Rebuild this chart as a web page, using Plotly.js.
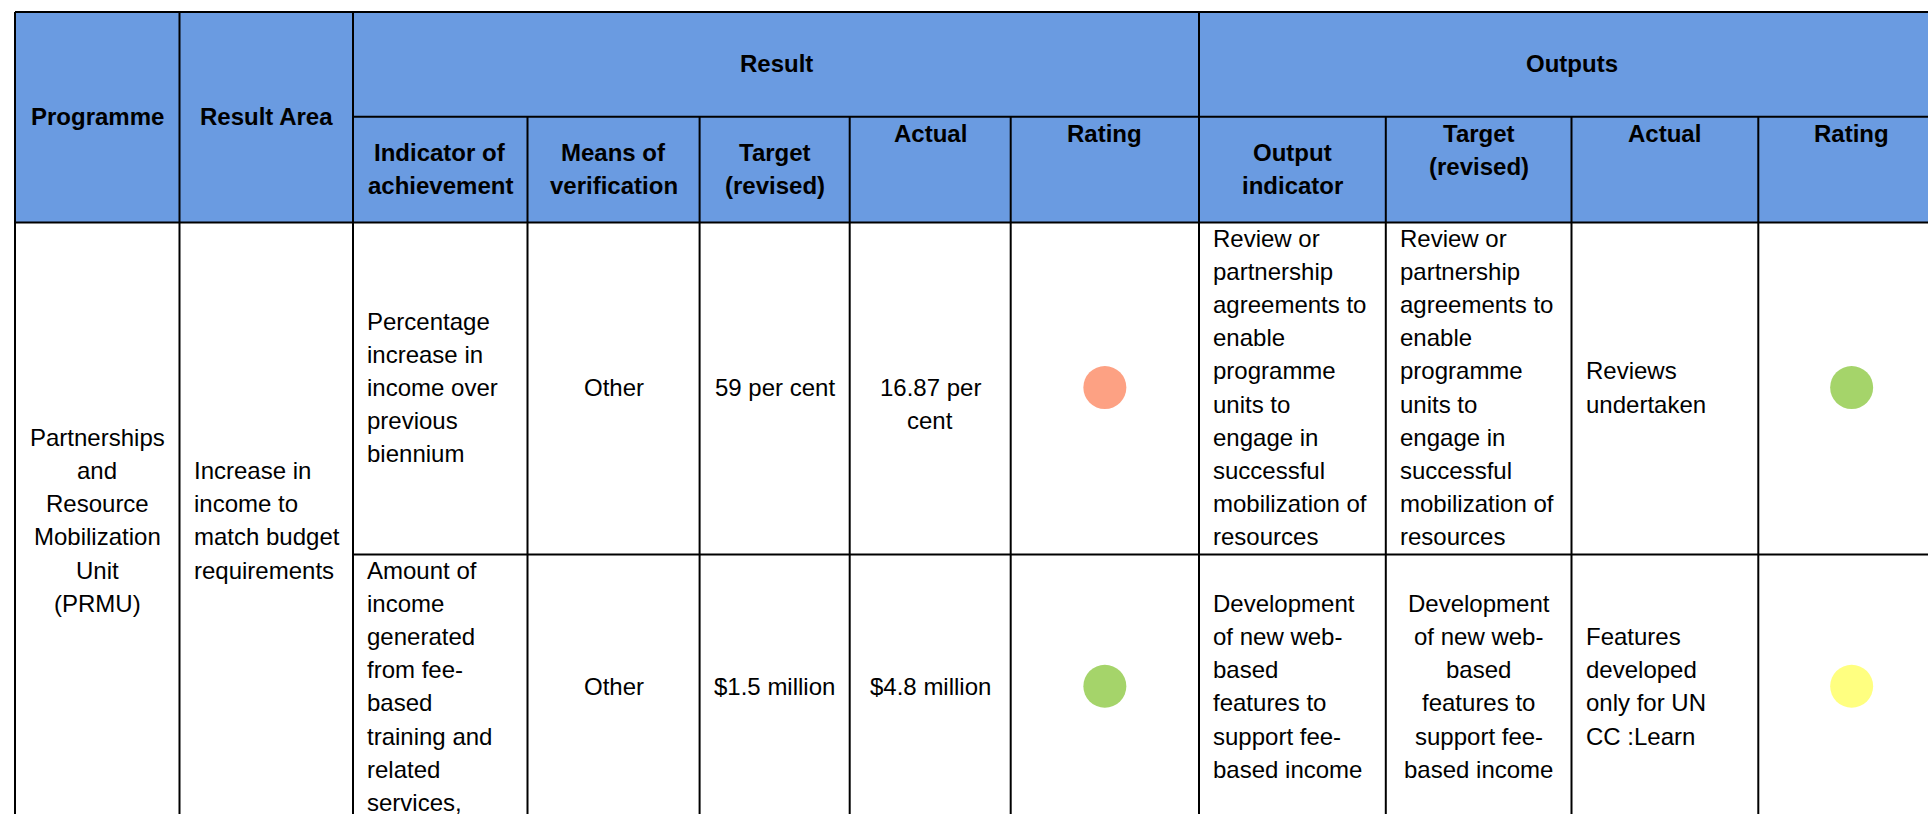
<!DOCTYPE html>
<html>
<head>
<meta charset="utf-8">
<script src="https://cdn.plot.ly/plotly-3.0.1.min.js"></script>
<style>html,body{margin:0;padding:0;background:#fff;}#chart{width:1928px;height:814px;}</style>
</head>
<body>
<div id="chart"></div>
<script>
// ---------------- DATA ----------------
const topHeaders = ["Programme", "Result Area"];
const groupHeaders = ["Result", "Outputs"];
const resultHeaders = [["Indicator of", "achievement"], ["Means of", "verification"], ["Target", "(revised)"], ["Actual"], ["Rating"]];
const outputHeaders = [["Output", "indicator"], ["Target", "(revised)"], ["Actual"], ["Rating"]];

const programme = ["Partnerships", "and", "Resource", "Mobilization", "Unit", "(PRMU)"];
const resultArea = ["Increase in", "income to", "match budget", "requirements"];

const indicators = [
  ["Percentage", "increase in", "income over", "previous", "biennium"],
  ["Amount of", "income", "generated", "from fee-", "based", "training and", "related", "services,"]
];
const means = [["Other"], ["Other"]];
const targets = [["59 per cent"], ["$1.5 million"]];
const actuals = [["16.87 per", "cent"], ["$4.8 million"]];
const resultRatings = ["not achieved", "achieved"];

const outputIndicators = [
  ["Review or", "partnership", "agreements to", "enable", "programme", "units to", "engage in", "successful", "mobilization of", "resources"],
  ["Development", "of new web-", "based", "features to", "support fee-", "based income"]
];
const outputTargets = [
  ["Review or", "partnership", "agreements to", "enable", "programme", "units to", "engage in", "successful", "mobilization of", "resources"],
  ["Development", "of new web-", "based", "features to", "support fee-", "based income"]
];
const outputActuals = [["Reviews", "undertaken"], ["Features", "developed", "only for UN", "CC :Learn"]];
const outputRatings = ["achieved", "partially achieved"];

const ratingColors = {"achieved": "#a5d46a", "partially achieved": "#ffff80", "not achieved": "#fda183"};

// ---------------- LAYOUT / STYLE ----------------
const colEdges = [15, 179.5, 353, 527.5, 699.6, 849.7, 1010.7, 1199, 1385.8, 1571.5, 1758.3, 1945];
const rowEdges = [12, 116.8, 222.6, 554.5, 820];
const FONT = "Liberation Sans, Arial, sans-serif";
const FS = 24, LH = 33.2, PADX = 12, TOPPAD = 16.3, VOFF = -1;
const HEADER_BG = "#6a9be1";
const LINE_W = 2;

const shapes = [];
const annotations = [];

function hline(y, x0, x1) { shapes.push({type: "line", xref: "x", yref: "y", x0: x0, x1: x1, y0: y, y1: y, line: {color: "#000", width: LINE_W}}); }
function vline(x, y0, y1) { shapes.push({type: "line", xref: "x", yref: "y", x0: x, x1: x, y0: y0, y1: y1, line: {color: "#000", width: LINE_W}}); }

function addLines(lines, c0, c1, r0, r1, align, valign, bold) {
  const x0 = colEdges[c0], x1 = colEdges[c1], y0 = rowEdges[r0], y1 = rowEdges[r1];
  const n = lines.length;
  let first;
  if (valign === "top") first = y0 + TOPPAD;
  else if (valign === "firstline") first = (y0 + y1) / 2 + VOFF;
  else first = (y0 + y1) / 2 + VOFF - (n - 1) / 2 * LH;
  const x = align === "left" ? x0 + PADX : (x0 + x1) / 2;
  lines.forEach(function (t, i) {
    annotations.push({
      x: x, y: first + i * LH, xref: "x", yref: "y",
      text: bold ? "<b>" + t + "</b>" : t,
      showarrow: false, xanchor: align === "left" ? "left" : "center", yanchor: "middle",
      font: {family: FONT, size: FS, color: "#000"}
    });
  });
}

// header background
shapes.push({type: "rect", xref: "x", yref: "y", x0: colEdges[0], x1: colEdges[11], y0: rowEdges[0], y1: rowEdges[2],
  fillcolor: HEADER_BG, line: {width: 0}, layer: "below"});

// grid lines
hline(rowEdges[0], colEdges[0], colEdges[11]);
hline(rowEdges[1], colEdges[2], colEdges[11]);
hline(rowEdges[2], colEdges[0], colEdges[11]);
hline(rowEdges[3], colEdges[2], colEdges[11]);
hline(rowEdges[4], colEdges[0], colEdges[11]);
[0, 1, 2, 7, 11].forEach(function (c) { vline(colEdges[c], rowEdges[0], rowEdges[4]); });
[3, 4, 5, 6, 8, 9, 10].forEach(function (c) { vline(colEdges[c], rowEdges[1], rowEdges[4]); });

// headers
addLines([topHeaders[0]], 0, 1, 0, 2, "center", "middle", true);
addLines([topHeaders[1]], 1, 2, 0, 2, "center", "middle", true);
addLines([groupHeaders[0]], 2, 7, 0, 1, "center", "middle", true);
addLines([groupHeaders[1]], 7, 11, 0, 1, "center", "middle", true);
const resultHeaderVAlign = ["middle", "middle", "middle", "top", "top"];
resultHeaders.forEach(function (h, i) { addLines(h, 2 + i, 3 + i, 1, 2, "center", resultHeaderVAlign[i], true); });
const outputHeaderVAlign = ["middle", "top", "top", "top"];
outputHeaders.forEach(function (h, i) { addLines(h, 7 + i, 8 + i, 1, 2, "center", outputHeaderVAlign[i], true); });

// body
addLines(programme, 0, 1, 2, 4, "center", "middle", false);
addLines(resultArea, 1, 2, 2, 4, "left", "middle", false);
const outTargetAlign = ["left", "center"];
const ratingX = [], ratingY = [], ratingC = [];
for (let r = 0; r < 2; r++) {
  const r0 = 2 + r, r1 = 3 + r;
  addLines(indicators[r], 2, 3, r0, r1, "left", "middle", false);
  addLines(means[r], 3, 4, r0, r1, "center", "middle", false);
  addLines(targets[r], 4, 5, r0, r1, "center", "middle", false);
  addLines(actuals[r], 5, 6, r0, r1, "center", "firstline", false);
  addLines(outputIndicators[r], 7, 8, r0, r1, "left", "middle", false);
  addLines(outputTargets[r], 8, 9, r0, r1, outTargetAlign[r], "middle", false);
  addLines(outputActuals[r], 9, 10, r0, r1, "left", "middle", false);
  const yc = (rowEdges[r0] + rowEdges[r1]) / 2 + VOFF;
  ratingX.push((colEdges[6] + colEdges[7]) / 2); ratingY.push(yc); ratingC.push(ratingColors[resultRatings[r]]);
  ratingX.push((colEdges[10] + colEdges[11]) / 2); ratingY.push(yc); ratingC.push(ratingColors[outputRatings[r]]);
}

const trace = {
  type: "scatter", mode: "markers", x: ratingX, y: ratingY,
  marker: {size: 43, color: ratingC, line: {width: 0}},
  hoverinfo: "skip", showlegend: false, cliponaxis: false
};

const layout = {
  width: 1928, height: 814,
  margin: {l: 0, r: 0, t: 0, b: 0, pad: 0},
  paper_bgcolor: "#fff", plot_bgcolor: "#fff",
  xaxis: {range: [0, 1928], visible: false, fixedrange: true},
  yaxis: {range: [814, 0], visible: false, fixedrange: true},
  shapes: shapes, annotations: annotations, showlegend: false
};

Plotly.newPlot("chart", [trace], layout, {displayModeBar: false, staticPlot: true});
</script>
</body>
</html>
